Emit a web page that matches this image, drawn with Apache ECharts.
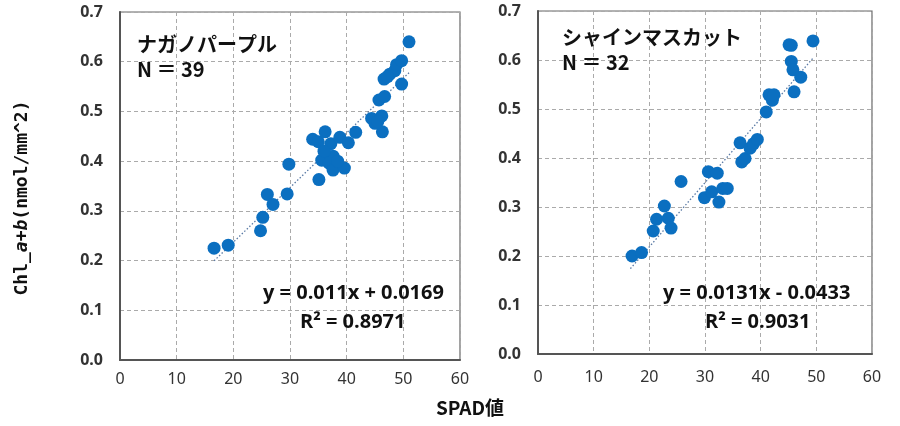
<!DOCTYPE html>
<html>
<head>
<meta charset="utf-8">
<script src="https://cdn.jsdelivr.net/npm/echarts@6/dist/echarts.min.js"></script>
<style>
  html, body { margin: 0; padding: 0; background: #fff; }
  #main { width: 900px; height: 426px; }
</style>
</head>
<body>
<div id="main"></div>
<script>
// ナガノパープル (SPAD, Chl a+b)
const nagano = [
  [16.6, 0.225], [19.1, 0.231], [24.8, 0.260], [25.2, 0.287], [26.0, 0.333],
  [27.0, 0.313], [29.5, 0.334], [29.8, 0.394], [35.1, 0.363], [34.0, 0.444],
  [35.0, 0.439], [36.2, 0.459], [37.2, 0.435], [38.8, 0.448], [40.3, 0.437],
  [41.6, 0.458], [36.4, 0.412], [37.6, 0.410], [35.6, 0.402], [36.9, 0.396],
  [37.6, 0.382], [39.6, 0.386], [36.0, 0.420], [46.3, 0.459], [45.0, 0.476],
  [44.4, 0.486], [46.2, 0.491], [45.7, 0.523], [46.7, 0.530], [46.6, 0.565],
  [47.6, 0.575], [48.5, 0.582], [48.8, 0.594], [49.7, 0.602], [49.7, 0.555],
  [51.0, 0.640], [38.4, 0.400], [45.5, 0.480], [47.2, 0.570]
];
// シャインマスカット
const shine = [
  [16.9, 0.200], [18.6, 0.207], [20.7, 0.251], [21.3, 0.275], [22.7, 0.302],
  [23.4, 0.277], [23.9, 0.257], [25.7, 0.352], [29.9, 0.319], [31.2, 0.331],
  [32.5, 0.310], [33.2, 0.338], [34.0, 0.338], [30.6, 0.372], [32.2, 0.369],
  [36.3, 0.431], [36.6, 0.392], [37.2, 0.399], [38.1, 0.420], [38.7, 0.429],
  [39.4, 0.438], [41.0, 0.494], [41.5, 0.529], [42.1, 0.518], [42.4, 0.529],
  [45.1, 0.631], [45.5, 0.630], [45.5, 0.597], [45.8, 0.580], [47.2, 0.565],
  [46.0, 0.535], [49.4, 0.639]
];
// 近似直線 (slope, intercept, x range)
const naganoFit = { a: 0.011, b: 0.0169, x: [16.6, 51.0] };
const shineFit = { a: 0.0131, b: -0.0433, x: [16.6, 49.4] };

const naganoText = ['ナガノパープル', 'N ＝ 39', 'y = 0.011x + 0.0169', 'R² = 0.8971'];
const shineText = ['シャインマスカット', 'N ＝ 32', 'y = 0.0131x - 0.0433', 'R² = 0.9031'];

const BLUE = '#0b6fc0';
const fitLine = f => f.x.map(x => [x, +(f.a * x + f.b).toFixed(4)]);

const chart = echarts.init(document.getElementById('main'));

const mkX = (i, margin) => ({
  gridIndex: i, type: 'value', min: 0, max: 60, interval: 10,
  axisLine: { show: true, lineStyle: { color: '#555', width: 2 } },
  axisTick: { show: false },
  axisLabel: { color: '#333', fontSize: 16, margin: margin, fontFamily: 'Noto Sans' },
  splitLine: { show: true, lineStyle: { type: [4, 3], color: '#aaa' } }
});
const mkY = i => ({
  gridIndex: i, type: 'value', min: 0, max: 0.7, interval: 0.1,
  axisLine: { show: true, lineStyle: { color: '#555', width: 2 } },
  axisTick: { show: false },
  axisLabel: {
    color: '#333', fontSize: 16, margin: 17, fontWeight: 'bold', fontFamily: 'Noto Sans',
    formatter: v => v.toFixed(1)
  },
  splitLine: { show: true, lineStyle: { type: [4, 3], color: '#aaa' } }
});

const txt = (x, y, t, font, extra) => ({
  type: 'text', x: x, y: y, z: 10,
  style: Object.assign({ text: t, fill: '#111', font: font }, extra || {})
});

chart.setOption({
  animation: false,
  grid: [
    { left: 120, top: 12, width: 340, height: 348, show: true, borderColor: '#666', borderWidth: 1.2 },
    { left: 538, top: 11, width: 334, height: 343, show: true, borderColor: '#666', borderWidth: 1.2 }
  ],
  xAxis: [mkX(0, 11), mkX(1, 15)],
  yAxis: [mkY(0), mkY(1)],
  series: [
    {
      type: 'line', xAxisIndex: 0, yAxisIndex: 0, data: fitLine(naganoFit), symbol: 'none', z: 1,
      lineStyle: { color: '#5a7aa5', width: 1.3, type: [1.5, 2] }
    },
    {
      type: 'scatter', xAxisIndex: 0, yAxisIndex: 0, data: nagano, symbolSize: 13, z: 2,
      itemStyle: { color: BLUE, opacity: 1 }
    },
    {
      type: 'line', xAxisIndex: 1, yAxisIndex: 1, data: fitLine(shineFit), symbol: 'none', z: 1,
      lineStyle: { color: '#5a7aa5', width: 1.3, type: [1.5, 2] }
    },
    {
      type: 'scatter', xAxisIndex: 1, yAxisIndex: 1, data: shine, symbolSize: 13, z: 2,
      itemStyle: { color: BLUE, opacity: 1 }
    }
  ],
  graphic: [
    txt(137, 34, naganoText[0], 'bold 20px "Noto Sans CJK JP"'),
    txt(137, 59, naganoText[1], 'bold 20px "Noto Sans CJK JP"'),
    txt(263, 283, naganoText[2], 'bold 20px "Open Sans"'),
    txt(300, 312, naganoText[3], 'bold 20px "Open Sans"'),
    txt(562, 27, shineText[0], 'bold 20px "Noto Sans CJK JP"'),
    txt(562, 52, shineText[1], 'bold 20px "Noto Sans CJK JP"'),
    txt(663, 283, shineText[2], 'bold 20px "Open Sans"'),
    txt(705, 312, shineText[3], 'bold 20px "Open Sans"'),
    {
      type: 'text', x: 22, y: 198, rotation: Math.PI / 2,
      style: {
        text: 'Chl_{i|a+b}(nmol/mm^2)',
        fill: '#111', font: 'bold 18px "DejaVu Sans Mono"',
        align: 'center', verticalAlign: 'middle',
        rich: { i: { fontStyle: 'italic', fontWeight: 'bold', fontSize: 18, fontFamily: 'DejaVu Sans Mono', fill: '#111' } }
      }
    },
    {
      type: 'text', x: 470, y: 408,
      style: { text: 'SPAD値', fill: '#111', font: 'bold 19px "Noto Sans CJK JP"', align: 'center', verticalAlign: 'middle' }
    }
  ]
});
</script>
</body>
</html>
